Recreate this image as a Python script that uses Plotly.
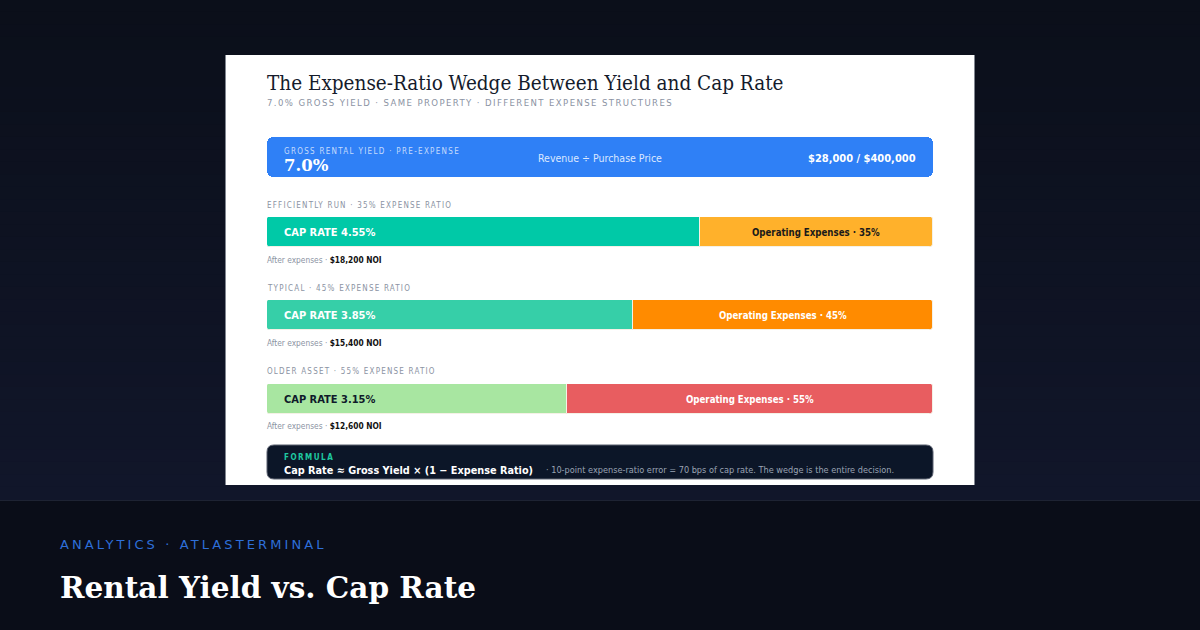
import plotly.graph_objects as go

# ---------------- data ----------------
gross_yield = 7.0
revenue = 28000
price = 400000
scenarios = ["EFFICIENTLY RUN", "TYPICAL", "OLDER ASSET"]
expense_ratios = [35, 45, 55]
cap_rates = [4.55, 3.85, 3.15]
noi = [18200, 15400, 12600]

# ---------------- style ----------------
W, H = 1200, 630
cap_colors = ["#00C9A7", "#36CFA8", "#A8E6A1"]
cap_text_colors = ["#ffffff", "#ffffff", "#0f1a2a"]
exp_colors = ["#FFB12B", "#FF8B00", "#E85D60"]
exp_text_colors = ["#1a1a1a", "#ffffff", "#ffffff"]
SANS = "DejaVu Sans Condensed, DejaVu Sans"
SERIF = "DejaVu Serif Condensed, DejaVu Serif"
PAD = 2  # annotation inner padding compensation


def px(x):
    return x / W


def py(y):
    return 1 - y / H


# row bands in pixels (top, bottom)
blue_band = (137, 177)
row_bands = [(217, 247), (300, 330), (384, 414)]
label_y = [205, 288, 371]
after_y = [260, 343, 426]
bar_left, bar_right = 267, 933

fig = go.Figure()
shapes = []

# background gradient (top area)
top = (11, 15, 26)
bot = (17, 22, 42)
N = 40
for i in range(N):
    t = i / (N - 1)
    c = tuple(int(round(top[k] + (bot[k] - top[k]) * t)) for k in range(3))
    y0 = 500 * i / N
    y1 = 500 * (i + 1) / N
    shapes.append(dict(type="rect", xref="paper", yref="paper", x0=0, x1=1,
                       y0=py(y1), y1=py(y0) + 0.001, fillcolor="rgb(%d,%d,%d)" % c,
                       line_width=0, layer="below"))
# footer
shapes.append(dict(type="rect", xref="paper", yref="paper", x0=0, x1=1, y0=0, y1=py(500),
                   fillcolor="#0A0D18", line_width=0, layer="below"))
shapes.append(dict(type="line", xref="paper", yref="paper", x0=0, x1=1, y0=py(500.5), y1=py(500.5),
                   line=dict(color="#1E2333", width=1), layer="below"))
# card
shapes.append(dict(type="rect", xref="paper", yref="paper", x0=px(225), x1=px(975), y0=py(485), y1=py(55),
                   fillcolor="#ffffff", line_width=0, layer="below"))
for xx in (225.5, 974.5):
    shapes.append(dict(type="line", xref="paper", yref="paper", x0=px(xx), x1=px(xx), y0=py(485), y1=py(55),
                       line=dict(color="#80858f", width=1), layer="below"))


def rrect(x0, y0, x1, y1, r):
    pts = [
        ("M", x0 + r, y0), ("L", x1 - r, y0), ("Q", x1, y0, x1, y0 + r), ("L", x1, y1 - r),
        ("Q", x1, y1, x1 - r, y1), ("L", x0 + r, y1), ("Q", x0, y1, x0, y1 - r), ("L", x0, y0 + r),
        ("Q", x0, y0, x0 + r, y0)]
    s = ""
    for p in pts:
        cmd = p[0]
        coords = p[1:]
        vals = []
        for j in range(0, len(coords), 2):
            vals.append("%.6f,%.6f" % (px(coords[j]), py(coords[j + 1])))
        s += cmd + " ".join(vals) + " "
    return s + "Z"


# formula box
shapes.append(dict(type="path", xref="paper", yref="paper", path=rrect(267, 445, 933, 479, 7),
                   fillcolor="#0C1628", line=dict(color="#5b6170", width=1), layer="below"))

# ---------------- bars ----------------
# gross-yield bar (explicit base -> all four corners rounded)
fig.add_trace(go.Bar(x=[gross_yield], base=[0], y=[0], orientation="h", width=1, xaxis="x", yaxis="y",
                     marker=dict(color="#2F80F6", line_width=0, cornerradius=6),
                     hoverinfo="skip", showlegend=False))

layout_axes = dict(
    xaxis=dict(domain=[px(bar_left), px(bar_right)], range=[0, gross_yield], visible=False,
               fixedrange=True, anchor="y"),
    yaxis=dict(domain=[py(blue_band[1]), py(blue_band[0])], range=[-0.5, 0.5], visible=False,
               fixedrange=True, anchor="x"),
)

# each scenario row gets its own x axis whose zero sits on the wedge (NOI | expenses boundary)
for i in range(3):
    n = i + 2
    xa, ya = "x%d" % n, "y%d" % n
    exp_pts = gross_yield - cap_rates[i]
    fig.add_trace(go.Bar(x=[-cap_rates[i]], y=[0], orientation="h", width=1, xaxis=xa, yaxis=ya,
                         marker=dict(color=cap_colors[i], line=dict(color="#f4f1e6", width=1), cornerradius=3),
                         hoverinfo="skip", showlegend=False))
    fig.add_trace(go.Bar(x=[exp_pts], y=[0], orientation="h", width=1, xaxis=xa, yaxis=ya,
                         marker=dict(color=exp_colors[i], line=dict(color="#f4f1e6", width=1), cornerradius=3),
                         hoverinfo="skip", showlegend=False))
    t, b = row_bands[i]
    layout_axes["xaxis%d" % n] = dict(domain=[px(bar_left), px(bar_right)], range=[-cap_rates[i], exp_pts],
                                      visible=False, fixedrange=True, anchor=ya)
    layout_axes["yaxis%d" % n] = dict(domain=[py(b), py(t)], range=[-0.5, 0.5], visible=False,
                                      fixedrange=True, anchor=xa)

# ---------------- text ----------------
ann = []


def A(text, x, y, size, color, family=SANS, xanchor="left", xref="paper", yref="paper", xshift=0, **kw):
    if xanchor == "left":
        xshift -= PAD
    elif xanchor == "right":
        xshift += PAD
    ann.append(dict(text=text, x=x, y=y, xref=xref, yref=yref, xanchor=xanchor, yanchor="middle",
                    showarrow=False, xshift=xshift,
                    font=dict(size=size, color=color, family=family), **kw))


def ls(text, sp):
    return '<span style="letter-spacing:%spx">%s</span>' % (sp, text)


A("The Expense-Ratio Wedge Between Yield and Cap Rate", px(267), py(83), 20.5, "#151b2b", SERIF)
A(ls("%.1f%% GROSS YIELD · SAME PROPERTY · DIFFERENT EXPENSE STRUCTURES" % gross_yield, 1.4),
  px(267), py(103), 9.5, "#8b93a3")

# blue card
A(ls("GROSS RENTAL YIELD · PRE-EXPENSE", 1.3), px(284), py(151), 8, "rgba(255,255,255,0.72)")
A("<b>%.1f%%</b>" % gross_yield, px(284), py(166), 16.5, "#ffffff", "DejaVu Serif")
A("Revenue ÷ Purchase Price", px(600), py(158), 10.5, "#dce8ff", xanchor="center")
A("<b>$%s / $%s</b>" % (format(revenue, ","), format(price, ",")), px(916), py(158), 11, "#ffffff",
  SANS, xanchor="right")

for i in range(3):
    n = i + 2
    xa, ya = "x%d" % n, "y%d" % n
    exp_pts = gross_yield - cap_rates[i]
    A(ls("%s · %d%% EXPENSE RATIO" % (scenarios[i], expense_ratios[i]), 1.2), px(267), py(label_y[i] + 0.5), 8,
      "#8b93a3")
    A("<b>CAP RATE %.2f%%</b>" % cap_rates[i], -cap_rates[i], 0, 11, cap_text_colors[i],
      xref=xa, yref=ya, xshift=17)
    A("<b>Operating Expenses · %d%%</b>" % expense_ratios[i], exp_pts / 2, 0, 9.6,
      exp_text_colors[i], xref=xa, yref=ya, xanchor="center")
    A('<span style="color:#8b93a3">After expenses · </span><b>$%s NOI</b>' % format(noi[i], ","),
      px(267), py(after_y[i]), 8.3, "#111111")

# formula
A(ls("<b>FORMULA</b>", 1.5), px(284), py(457), 8, "#1FC9A0")
A("<b>Cap Rate ≈ Gross Yield × (1 − Expense Ratio)</b>", px(284), py(470), 10.8, "#ffffff")
A("· 10-point expense-ratio error = 70 bps of cap rate. The wedge is the entire decision.",
  px(546), py(470), 9.1, "#9aa3b3")

# footer
A(ls("ANALYTICS · ATLASTERMINAL", 3.1), px(60), py(544), 13, "#2E6FD9", "DejaVu Sans")
A("<b>Rental Yield vs. Cap Rate</b>", px(60), py(587), 29.5, "#ffffff", "DejaVu Serif")

fig.update_layout(
    width=W, height=H, margin=dict(l=0, r=0, t=0, b=0),
    paper_bgcolor="#0B0F1A", plot_bgcolor="rgba(0,0,0,0)",
    barmode="overlay", bargap=0,
    shapes=shapes, annotations=ann, showlegend=False,
    **layout_axes,
)

fig.write_html("out.html", config={"displayModeBar": False})
